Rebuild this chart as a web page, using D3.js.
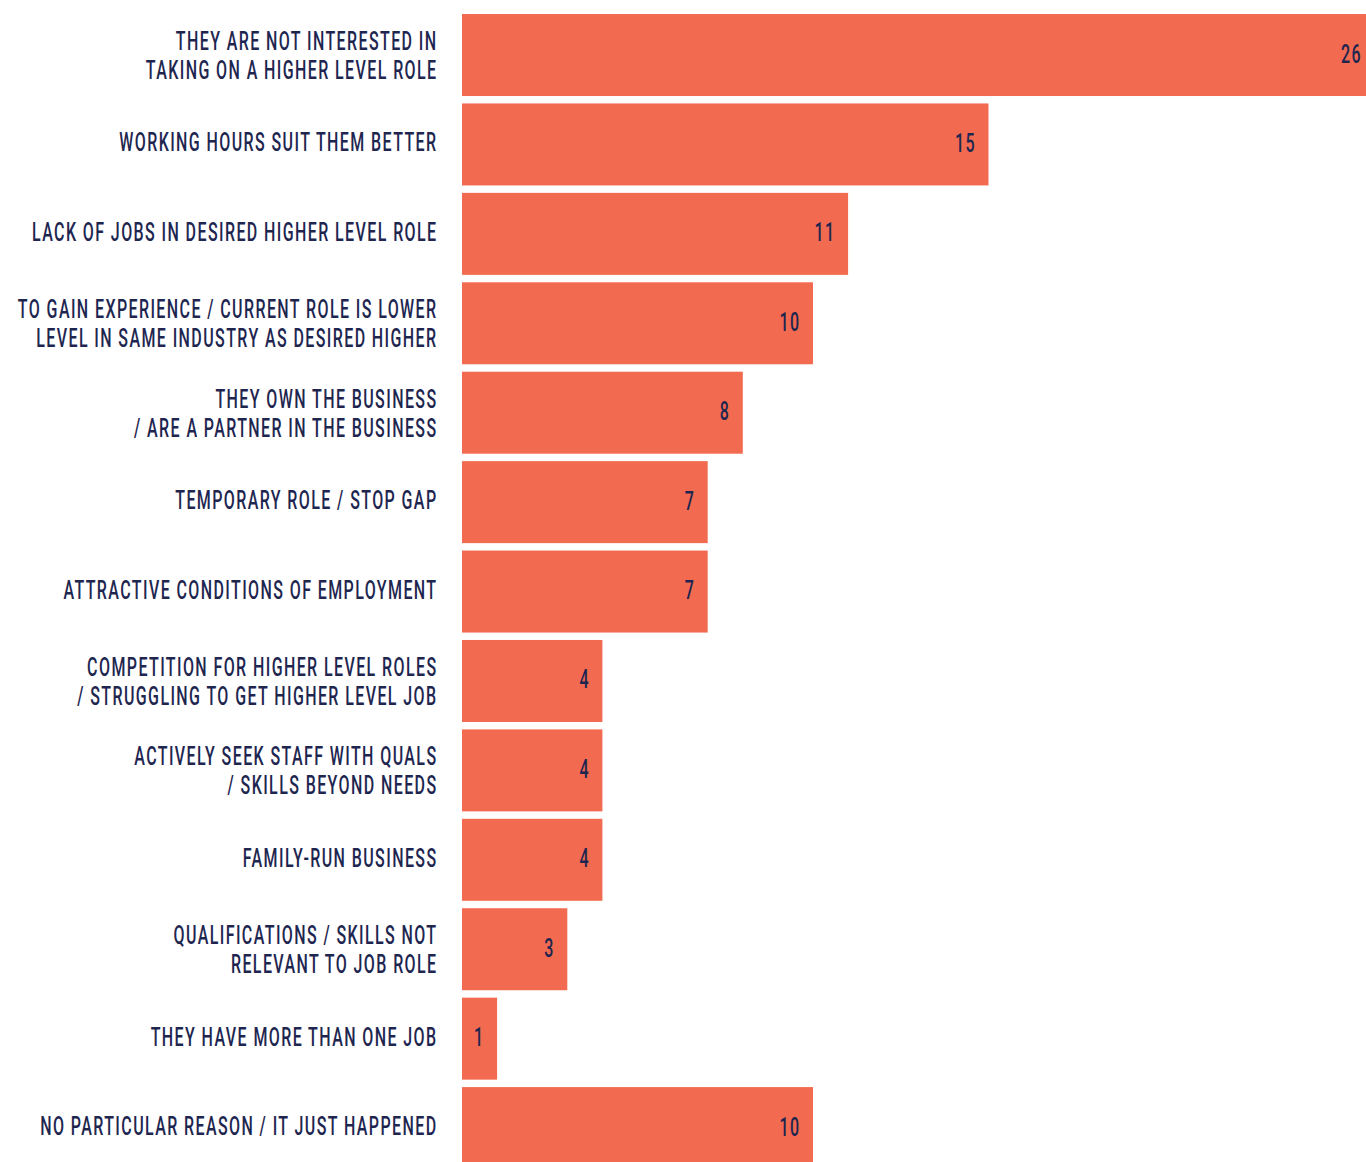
<!DOCTYPE html>
<html>
<head>
<meta charset="utf-8">
<script src="https://cdn.jsdelivr.net/npm/d3@7"></script>
<style>
  html, body { margin: 0; padding: 0; background: #fff; overflow: hidden; }
  text { font-family: Roboto, "Liberation Sans", sans-serif; fill: #1e2650; font-weight: 500; }
</style>
</head>
<body>
<div id="chart"></div>
<script>
const categories = [
    'THEY ARE NOT INTERESTED IN\nTAKING ON A HIGHER LEVEL ROLE',
    'WORKING HOURS SUIT THEM BETTER',
    'LACK OF JOBS IN DESIRED HIGHER LEVEL ROLE',
    'TO GAIN EXPERIENCE / CURRENT ROLE IS LOWER\nLEVEL IN SAME INDUSTRY AS DESIRED HIGHER',
    'THEY OWN THE BUSINESS\n/ ARE A PARTNER IN THE BUSINESS',
    'TEMPORARY ROLE / STOP GAP',
    'ATTRACTIVE CONDITIONS OF EMPLOYMENT',
    'COMPETITION FOR HIGHER LEVEL ROLES\n/ STRUGGLING TO GET HIGHER LEVEL JOB',
    'ACTIVELY SEEK STAFF WITH QUALS\n/ SKILLS BEYOND NEEDS',
    'FAMILY-RUN BUSINESS',
    'QUALIFICATIONS / SKILLS NOT\nRELEVANT TO JOB ROLE',
    'THEY HAVE MORE THAN ONE JOB',
    'NO PARTICULAR REASON / IT JUST HAPPENED'
];
const values = [26, 15, 11, 10, 8, 7, 7, 4, 4, 4, 3, 1, 10];

const width = 1366;
const height = 1162;
const labelRight = 437.5;
const squeeze = 0.64;   // fake a condensed face

const data = categories.map((c, i) => ({ name: c, value: values[i] }));

const x = d3.scaleLinear()
    .domain([0, 26])
    .range([462, 462 + 26 * 35.1]);

const y = d3.scaleBand()
    .domain(categories)
    .range([6.6, 1176.5])
    .padding(0.083);

const svg = d3.select('#chart')
    .append('svg')
    .attr('width', width)
    .attr('height', height);

const row = svg.selectAll('g.row')
    .data(data)
    .enter().append('g')
    .attr('class', 'row')
    .attr('transform', d => `translate(0,${y(d.name)})`);

row.append('rect')
    .attr('x', x(0))
    .attr('y', 0)
    .attr('width', d => x(d.value) - x(0))
    .attr('height', y.bandwidth())
    .attr('fill', '#f26b50');

const mid = y.bandwidth() / 2;

// category labels, right aligned against the bars
row.append('g')
    .attr('transform', `translate(${labelRight},${mid}) scale(${squeeze},1)`)
    .each(function (d) {
        const lines = d.name.split('\n');
        const g = d3.select(this);
        lines.forEach((line, i) => {
            const off = (i - (lines.length - 1) / 2) * 29;
            g.append('text')
                .attr('text-anchor', 'end')
                .attr('font-size', 25)
                .attr('letter-spacing', 2.2)
                .attr('y', lines.length > 1 ? off + 9.5 : off + 7)
                .text(line);
        });
    });

// value labels inside the bar end
row.append('g')
    .attr('transform', d => `translate(${x(d.value) - 12.5},${mid}) scale(${squeeze},1)`)
    .append('text')
    .attr('text-anchor', 'end')
    .attr('font-size', 25)
    .attr('letter-spacing', 2.2)
    .attr('y', 7.5)
    .text(d => d.value);
</script>
</body>
</html>
